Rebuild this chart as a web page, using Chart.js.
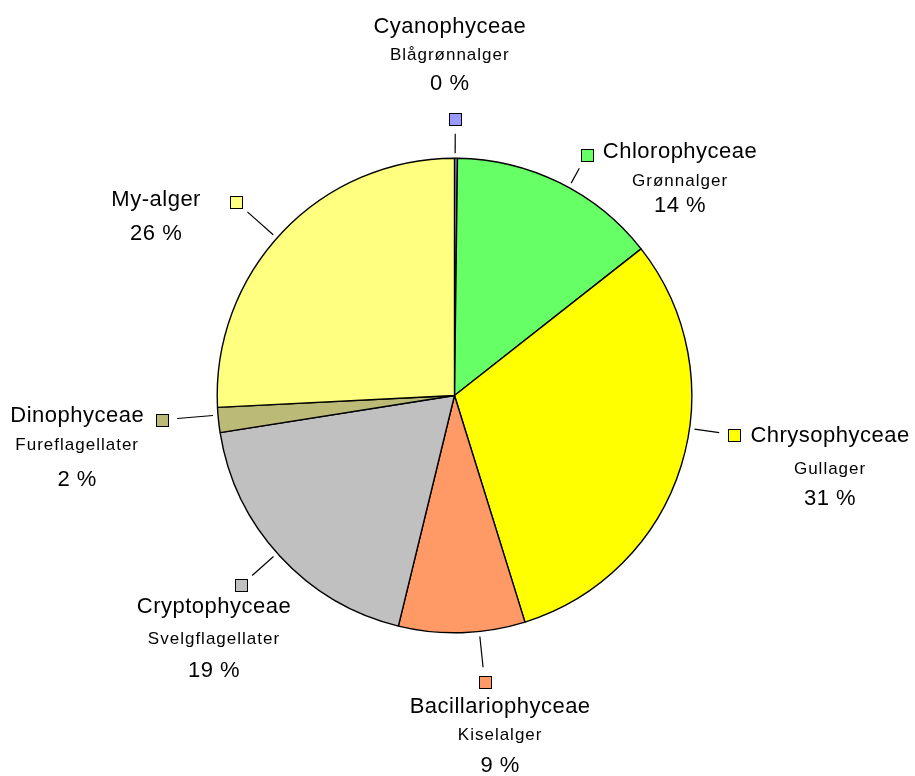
<!DOCTYPE html>
<html>
<head>
<meta charset="utf-8">
<script src="https://cdn.jsdelivr.net/npm/chart.js@4.4.1/dist/chart.umd.min.js"></script>
<style>
  html, body { margin: 0; padding: 0; background: #ffffff; }
  #wrap { width: 915px; height: 776px; position: relative; }
</style>
</head>
<body>
<div id="wrap"><canvas id="c"></canvas></div>
<script>
// ---- data ----
const categories = ['Cyanophyceae', 'Chlorophyceae', 'Chrysophyceae', 'Bacillariophyceae', 'Cryptophyceae', 'Dinophyceae', 'My-alger'];
const subNames = ['Blågrønnalger', 'Grønnalger', 'Gullager', 'Kiselalger', 'Svelgflagellater', 'Fureflagellater', ''];
const shares = [0.2, 14.2, 30.8, 8.6, 18.7, 1.7, 25.8];

// ---- styles ----
const sliceColors = ['#9999FF', '#66FF66', '#FFFF00', '#FF9966', '#C0C0C0', '#BBBB77', '#FFFF80'];
const labelLayout = [
  { nudge: -0.2, extra: 39.5, tx: -5.5, ty: -85.5, gaps: [27, 57] },
  { nudge: 2.5,  extra: 37,   tx: 93.5, ty: 3,     gaps: [28, 54] },
  { nudge: -9.3, extra: 45,   tx: 96,   ty: 7,     gaps: [32, 63] },
  { nudge: -4.2, extra: 51,   tx: 15.5, ty: 30.5,  gaps: [27, 59] },
  { nudge: 1.0,  extra: 48.5, tx: -27,  ty: 28,    gaps: [31, 64] },
  { nudge: 1.2,  extra: 56,   tx: -85,  ty: 2,     gaps: [28, 64] },
  { nudge: -2.0, extra: 54.5, tx: -80,  ty: 4,     gaps: [34] }
];
const bigFont = '22px "Liberation Sans", Arial, sans-serif';
const smallFont = '17px "Liberation Sans", Arial, sans-serif';

const calloutLabels = {
  id: 'calloutLabels',
  afterDatasetsDraw(chart, args, opts) {
    const ctx = chart.ctx;
    const meta = chart.getDatasetMeta(0);
    const values = chart.data.datasets[0].data;
    const colors = chart.data.datasets[0].backgroundColor;
    ctx.save();
    meta.data.forEach((arc, i) => {
      const L = opts.layout[i];
      const p = arc.getProps(['x', 'y', 'startAngle', 'endAngle', 'outerRadius'], true);
      const mid = (p.startAngle + p.endAngle) / 2 + L.nudge * Math.PI / 180;
      const c = Math.cos(mid), s = Math.sin(mid);
      const d = p.outerRadius + L.extra;
      const sx = p.x + c * d, sy = p.y + s * d;
      // leader line
      ctx.strokeStyle = '#000';
      ctx.lineWidth = 1.2;
      ctx.beginPath();
      ctx.moveTo(p.x + c * (p.outerRadius + 5), p.y + s * (p.outerRadius + 5));
      ctx.lineTo(p.x + c * (d - 15), p.y + s * (d - 15));
      ctx.stroke();
      // legend square
      ctx.lineWidth = 1;
      const rx = Math.round(sx) - 6 + 0.5, ry = Math.round(sy) - 6 + 0.5;
      ctx.fillStyle = colors[i];
      ctx.fillRect(rx, ry, 12, 12);
      ctx.strokeRect(rx, ry, 12, 12);
      // text
      const lines = [];
      lines.push({ t: chart.data.labels[i], f: bigFont, ls: '0.5px' });
      if (opts.sub[i]) lines.push({ t: opts.sub[i], f: smallFont, ls: '1px' });
      lines.push({ t: Math.round(values[i]) + ' %', f: bigFont, ls: '0.5px' });
      const cx = sx + L.tx, by = sy + L.ty;
      ctx.fillStyle = '#000';
      ctx.textAlign = 'center';
      ctx.textBaseline = 'alphabetic';
      lines.forEach((ln, k) => {
        ctx.font = ln.f;
        ctx.letterSpacing = ln.ls;
        const yy = by + (k === 0 ? 0 : L.gaps[k - 1]);
        ctx.fillText(ln.t, cx, yy);
      });
      ctx.letterSpacing = '0px';
    });
    ctx.restore();
  }
};

new Chart(document.getElementById('c'), {
  type: 'pie',
  data: {
    labels: categories,
    datasets: [{
      data: shares,
      backgroundColor: sliceColors,
      borderColor: '#000',
      borderWidth: 1.4,
      hoverBorderWidth: 1.4,
      hoverOffset: 0
    }]
  },
  options: {
    responsive: true,
    maintainAspectRatio: false,
    animation: false,
    events: [],
    layout: { padding: { left: 216.5, right: 222.5, top: 157.5, bottom: 142.5 } },
    plugins: {
      legend: { display: false },
      tooltip: { enabled: false },
      calloutLabels: { layout: labelLayout, sub: subNames }
    }
  },
  plugins: [calloutLabels]
});
</script>
</body>
</html>
